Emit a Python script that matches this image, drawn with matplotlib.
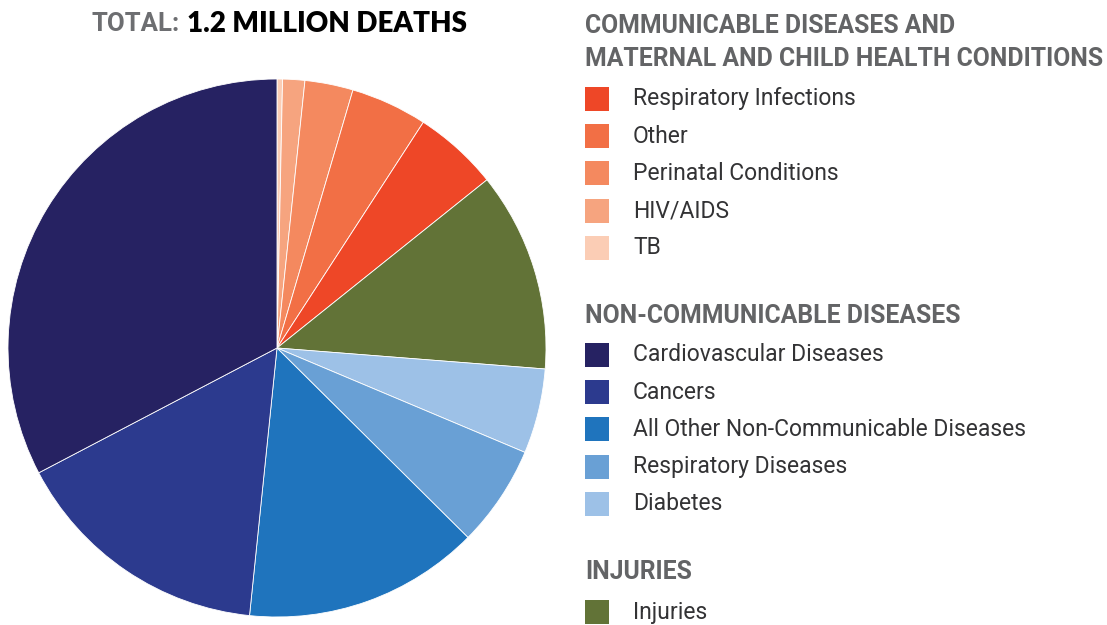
import matplotlib.pyplot as plt
from matplotlib.patches import Rectangle

# slices, clockwise from 12 o'clock (percent of deaths)
slices = ['TB', 'HIV/AIDS', 'Perinatal Conditions', 'Other', 'Respiratory Infections',
          'Injuries', 'Diabetes', 'Respiratory Diseases',
          'All Other Non-Communicable Diseases', 'Cancers', 'Cardiovascular Diseases']
shares = [0.33, 1.33, 2.9, 4.6, 5.1, 12.0, 5.1, 6.1, 14.2, 15.7, 32.7]
colors = ['#FBCDB5', '#F6A47F', '#F4895F', '#F26F45', '#EE4727',
          '#627337', '#9DC1E7', '#69A0D5', '#1F74BD', '#2C3A8E', '#262262']
col = dict(zip(slices, colors))

# legend groups (one string per heading line)
groups = [['COMMUNICABLE DISEASES AND', 'MATERNAL AND CHILD HEALTH CONDITIONS'],
          ['NON-COMMUNICABLE DISEASES'], ['INJURIES']]
group_items = [['Respiratory Infections', 'Other', 'Perinatal Conditions', 'HIV/AIDS', 'TB'],
               ['Cardiovascular Diseases', 'Cancers', 'All Other Non-Communicable Diseases',
                'Respiratory Diseases', 'Diabetes'],
               ['Injuries']]

W, H = 1107, 625
fig = plt.figure(figsize=(W / 100, H / 100), dpi=100)

def fx(x):
    return x / W

def fy(y):
    return 1 - y / H

# pie
ax = fig.add_axes([fx(8), fy(617), 538 / W, 538 / H])
ax.pie(shares, colors=colors, startangle=90, counterclock=False, radius=1,
       wedgeprops=dict(linewidth=0.6, edgecolor='white'))
ax.set_xlim(-1, 1)
ax.set_ylim(-1, 1)
ax.set_aspect('equal')
ax.axis('off')

# title
fig.text(fx(92), fy(24), 'TOTAL:', fontsize=18.5, fontweight='bold', family='Roboto',
         color='#6D6E71', va='center', ha='left')
fig.text(fx(187), fy(24), '1.2 MILLION DEATHS', fontsize=20, fontweight='heavy',
         family='Lato', color='#000000', va='center', ha='left')

# legend
head_color = '#636466'
item_color = '#333335'
head_y = [26, 316, 572]
first_item_y = [99, 355, 612]
step = 37.2
for lines, hy, iy, items in zip(groups, head_y, first_item_y, group_items):
    for j, line in enumerate(lines):
        fig.text(fx(585), fy(hy + j * 33), line, fontsize=17.8, fontweight='bold',
                 family='Roboto', color=head_color, va='center', ha='left')
    for k, name in enumerate(items):
        y = iy + k * step
        fig.patches.append(Rectangle((fx(585), fy(y + 12)), 24 / W, 24 / H,
                                     facecolor=col[name], edgecolor='none',
                                     transform=fig.transFigure, figure=fig))
        fig.text(fx(633), fy(y), name, fontsize=16.5, family='Roboto',
                 color=item_color, va='center', ha='left')

fig.savefig('out.png', dpi=100, facecolor='white')
